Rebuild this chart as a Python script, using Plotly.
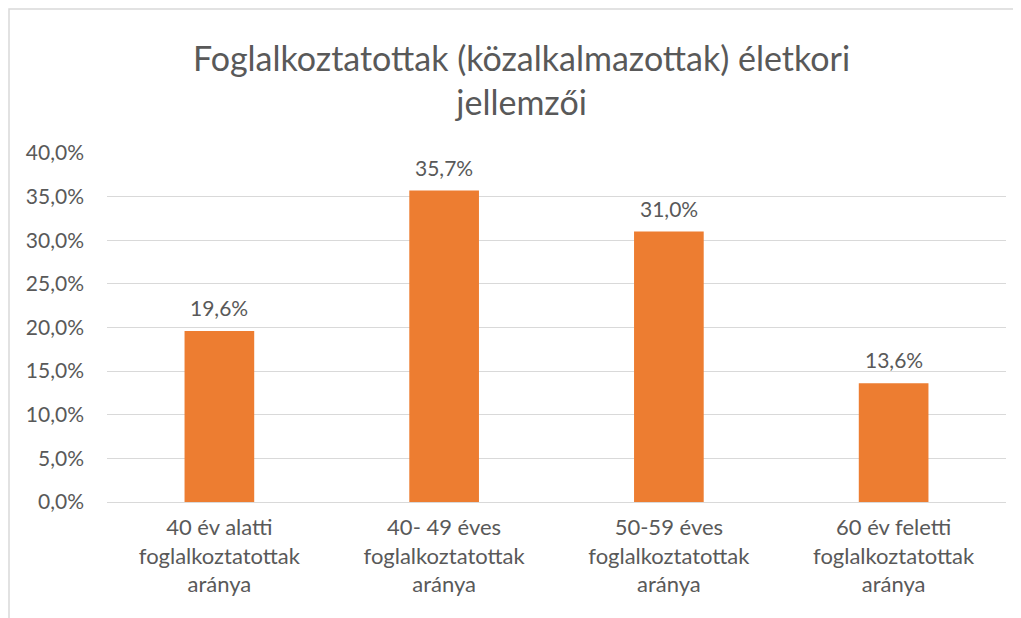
import plotly.graph_objects as go

categories = ["40 év alatti<br>foglalkoztatottak<br>aránya",
              "40- 49 éves<br>foglalkoztatottak<br>aránya",
              "50-59 éves<br>foglalkoztatottak<br>aránya",
              "60 év feletti<br>foglalkoztatottak<br>aránya"]
values = [0.196, 0.357, 0.310, 0.136]
tick_vals = [0, 0.05, 0.10, 0.15, 0.20, 0.25, 0.30, 0.35, 0.40]

FONT = "Lato"
GRAY = "#595959"

fig = go.Figure(go.Bar(
    x=categories, y=values,
    marker=dict(color="#ED7D31", line=dict(width=0)),
    width=0.31,
    hoverinfo="skip",
))

for c, v in zip(categories, values):
    fig.add_annotation(x=c, y=v, text=f"{v*100:.1f}%".replace(".", ","),
                       showarrow=False, yanchor="bottom", yshift=9,
                       font=dict(family=FONT, size=21, color=GRAY))

fig.update_layout(
    width=1021, height=618,
    margin=dict(l=99, r=23, t=145, b=124),
    paper_bgcolor="white", plot_bgcolor="white",
    separators=", ",
    showlegend=False,
    title=dict(text="Foglalkoztatottak (közalkalmazottak) életkori<br>jellemzői",
               x=0.503, xref="container", xanchor="center",
               y=1 - 63/618, yref="container", yanchor="middle",
               font=dict(family=FONT, size=34, color=GRAY)),
    xaxis=dict(showgrid=False, showline=False, ticks="",
               ticklabelstandoff=10,
               tickfont=dict(family=FONT, size=22, color=GRAY)),
    yaxis=dict(range=[0, 0.4], tickvals=tick_vals, tickformat=".1%",
               showgrid=True, gridcolor="#d9d9d9", gridwidth=1,
               zeroline=True, zerolinecolor="#d9d9d9", zerolinewidth=1,
               showline=False, ticks="", ticklabelstandoff=22,
               tickfont=dict(family=FONT, size=21, color=GRAY)),
    shapes=[dict(type="rect", xref="paper", yref="paper",
                 x0=-98/899, x1=1.2, y0=-0.6, y1=493/349,
                 line=dict(color="#d9d9d9", width=1.5), layer="below")],
)

fig.write_html("out.html")
